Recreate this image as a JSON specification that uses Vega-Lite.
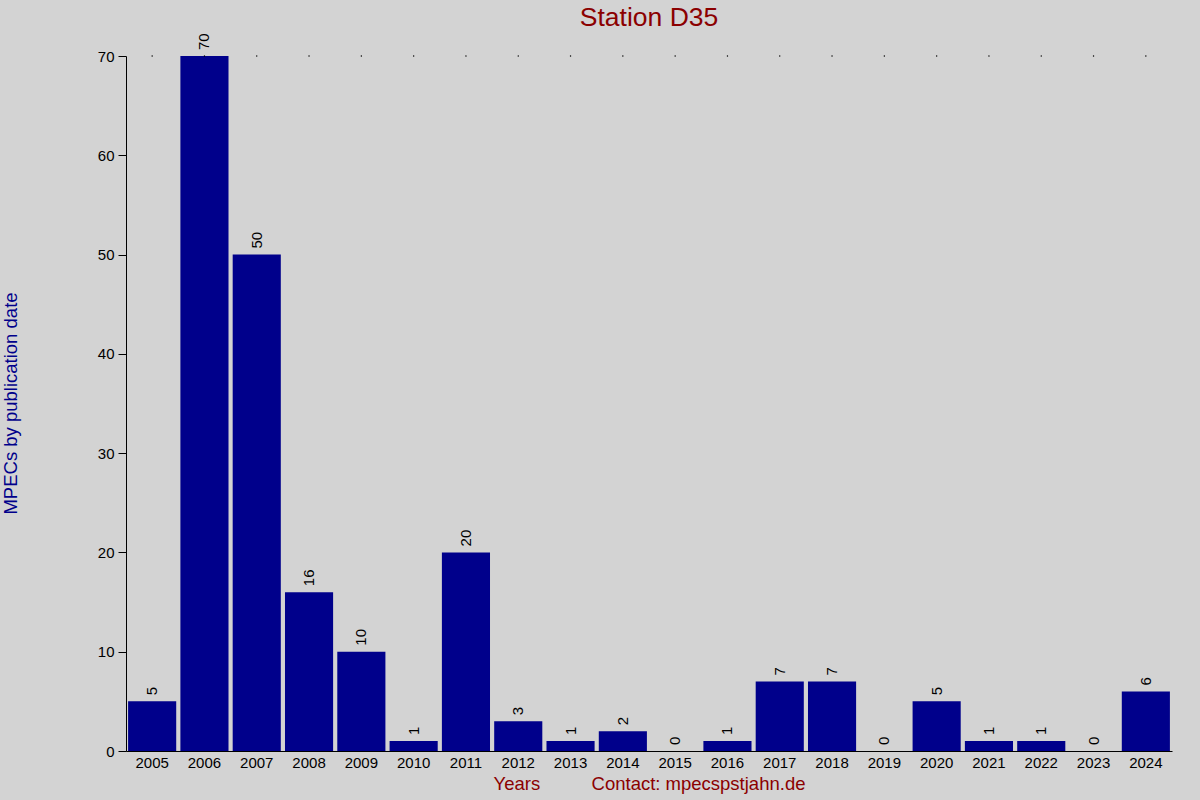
{
  "$schema": "https://vega.github.io/schema/vega-lite/v6.json",
  "background": "#d3d3d3",
  "autosize": {"type": "none"},
  "width": 1046,
  "height": 695,
  "padding": {"left": 126, "top": 56, "right": 28, "bottom": 49},
  "title": {
    "text": "Station D35",
    "font": "Liberation Sans",
    "fontSize": 26.5,
    "fontWeight": "normal",
    "color": "#8b0000",
    "anchor": "middle",
    "offset": 2
  },
  "config": {
    "view": {"stroke": null},
    "axis": {"grid": false, "labelFont": "Liberation Sans", "titleFont": "Liberation Sans"}
  },
  "data": {
    "values": [
      {"Year": "2005", "MPECs": 5},
      {"Year": "2006", "MPECs": 70},
      {"Year": "2007", "MPECs": 50},
      {"Year": "2008", "MPECs": 16},
      {"Year": "2009", "MPECs": 10},
      {"Year": "2010", "MPECs": 1},
      {"Year": "2011", "MPECs": 20},
      {"Year": "2012", "MPECs": 3},
      {"Year": "2013", "MPECs": 1},
      {"Year": "2014", "MPECs": 2},
      {"Year": "2015", "MPECs": 0},
      {"Year": "2016", "MPECs": 1},
      {"Year": "2017", "MPECs": 7},
      {"Year": "2018", "MPECs": 7},
      {"Year": "2019", "MPECs": 0},
      {"Year": "2020", "MPECs": 5},
      {"Year": "2021", "MPECs": 1},
      {"Year": "2022", "MPECs": 1},
      {"Year": "2023", "MPECs": 0},
      {"Year": "2024", "MPECs": 6}
    ]
  },
  "encoding": {
    "x": {
      "field": "Year",
      "type": "ordinal",
      "scale": {"paddingInner": 0.08, "paddingOuter": 0.04},
      "axis": {
        "title": "Years\u00a0\u00a0\u00a0\u00a0\u00a0\u00a0\u00a0\u00a0\u00a0\u00a0Contact: mpecspstjahn.de",
        "titleColor": "#8b0000",
        "titleFontSize": 18.5,
        "titleFontWeight": "normal",
        "titlePadding": 4,
        "labelAngle": 0,
        "labelFontSize": 15,
        "labelColor": "black",
        "labelPadding": 4,
        "ticks": false,
        "domainColor": "black"
      }
    }
  },
  "layer": [
    {
      "mark": {"type": "bar", "color": "#00008b"},
      "encoding": {
        "y": {
          "field": "MPECs",
          "type": "quantitative",
          "scale": {"domain": [0, 70], "nice": false},
          "axis": {
            "title": "MPECs by publication date",
            "titleColor": "#00008b",
            "titleFontSize": 18.5,
            "titleFontWeight": "normal",
            "titleAngle": -90,
            "titleX": -116,
            "titleY": 347,
            "titleAlign": "center",
            "titleBaseline": "middle",
            "values": [0, 10, 20, 30, 40, 50, 60, 70],
            "labelFontSize": 15,
            "labelColor": "black",
            "labelPadding": 4,
            "tickSize": 8,
            "tickColor": "black",
            "domainColor": "black"
          }
        }
      }
    },
    {
      "mark": {
        "type": "text",
        "angle": -90,
        "align": "left",
        "baseline": "middle",
        "dx": 6,
        "font": "Liberation Sans",
        "fontSize": 15,
        "color": "black"
      },
      "encoding": {
        "y": {"field": "MPECs", "type": "quantitative"},
        "text": {"field": "MPECs", "type": "quantitative"}
      }
    },
    {
      "mark": {"type": "point", "filled": true, "size": 2, "color": "black", "opacity": 1},
      "encoding": {
        "y": {"datum": 70}
      }
    }
  ]
}
